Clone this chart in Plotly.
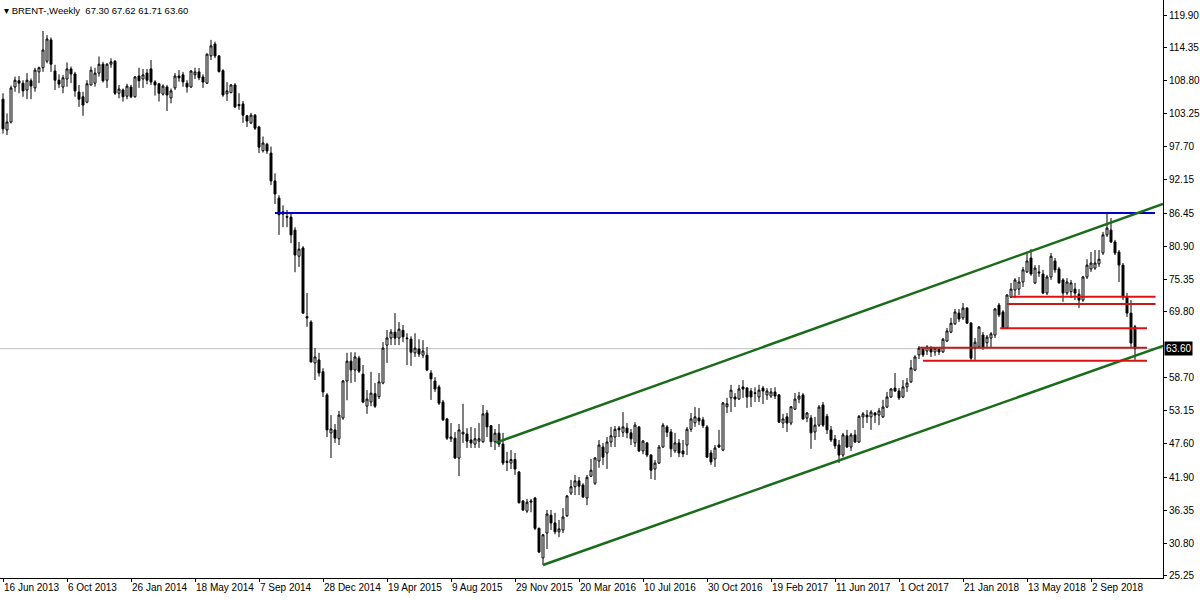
import pandas as pd
import plotly.graph_objects as go

# ---------------- data (weekly BRENT candles) ----------------
first_week = "2013-06-16"

opens = [105.7,100.5,101.85,107.75,108.8,108.4,107.25,108.8,107.6,110.3,
111.0,112.1,115.7,110.45,108.9,107.75,109.1,110.8,109.95,106.9,
106.1,105.2,108.1,108.4,110.1,111.6,108.9,111.6,112.1,106.7,
107.25,106.2,107.75,106.1,109.6,109.1,110.1,110.8,108.6,108.3,
106.55,107.75,105.9,107.6,109.6,109.8,108.4,107.75,109.8,110.3,
109.45,108.4,113.0,115.0,113.0,110.5,106.6,106.8,108.1,104.8,
104.9,102.9,101.7,103.0,101.0,97.0,98.1,96.6,91.9,89.0,
86.3,85.9,85.8,83.6,79.2,80.6,69.0,68.1,61.2,61.7,
59.7,55.8,49.4,49.9,48.4,51.9,58.15,61.5,60.0,62.0,
59.3,53.9,54.6,56.0,55.5,57.8,64.2,65.4,66.4,65.4,
66.7,65.4,65.2,62.9,63.55,62.5,62.5,59.5,58.15,57.15,
54.6,51.75,48.4,48.5,45.15,49.2,49.2,48.2,47.5,48.0,
47.9,52.75,50.6,47.9,49.35,47.5,44.6,44.3,44.9,42.8,
37.9,36.2,37.7,38.4,33.3,28.3,32.5,35.5,34.2,32.7,
33.0,35.4,39.25,40.3,41.3,40.6,38.4,42.1,40.9,44.65,
47.0,46.0,47.85,48.7,50.2,49.5,50.2,49.4,47.7,50.4,
46.35,47.7,45.65,43.3,44.3,47.0,50.4,49.55,46.35,47.7,
46.35,47.35,50.0,51.1,51.9,51.6,50.4,46.0,45.0,47.35,
46.5,53.8,55.3,55.45,55.1,57.15,56.95,56.45,56.15,55.45,
56.95,55.8,55.6,56.3,55.8,51.05,52.1,51.05,53.4,55.1,
55.8,51.9,51.9,49.55,50.7,54.1,52.2,49.9,48.35,47.35,
45.65,48.9,47.0,49.05,47.85,52.1,52.4,52.1,52.75,52.4,
52.1,53.75,55.45,56.95,56.45,55.45,57.15,58.0,60.0,62.55,
63.55,63.2,63.7,63.05,63.55,63.05,64.9,66.4,67.8,69.6,
68.8,70.45,67.9,63.7,63.9,65.9,64.6,65.4,65.9,70.95,
69.8,67.1,72.3,73.5,73.65,74.85,76.55,78.9,74.7,76.55,
76.2,73.0,75.7,78.4,77.05,75.2,73.0,73.2,73.65,72.8,
71.8,75.7,77.05,77.2,77.9,79.75,82.8,83.6,81.6,79.9,
77.7,72.3,69.6,67.30]

highs = [106.7,103.3,108.0,109.5,109.6,108.9,110.1,109.2,111.0,111.2,
117.2,116.5,116.1,111.5,109.9,109.8,111.9,111.2,110.3,108.1,
106.95,108.9,111.2,111.0,112.9,112.0,111.75,112.6,112.3,108.1,
107.5,108.3,108.1,109.6,111.0,110.8,110.8,112.3,108.9,108.4,
108.2,108.1,107.5,110.1,110.6,110.3,108.9,110.6,111.0,110.95,
109.9,113.4,115.7,115.4,113.15,110.75,108.6,108.25,108.4,106.7,
105.4,103.0,103.4,103.2,101.2,99.4,98.35,97.7,93.2,89.5,
87.8,87.0,86.5,84.1,81.6,80.9,73.0,68.4,63.7,62.9,
60.3,56.1,52.4,50.9,53.1,58.3,62.9,63.0,63.0,62.4,
60.85,56.6,59.7,57.8,59.5,64.7,66.75,66.9,69.6,68.1,
67.6,66.2,65.7,66.2,65.2,65.05,63.9,60.0,58.8,57.5,
54.95,51.9,51.05,49.55,50.9,54.3,50.2,50.4,50.2,51.05,
54.1,53.25,50.7,50.05,50.9,49.4,46.2,46.5,46.0,42.95,
38.05,38.25,38.25,38.6,33.4,32.3,36.4,36.4,35.9,34.7,
36.7,38.9,41.45,42.3,41.95,40.9,42.3,45.0,45.3,48.2,
47.7,48.7,50.4,50.55,50.55,52.9,51.05,50.05,51.2,50.55,
48.2,47.85,45.8,44.8,47.35,51.05,50.7,50.05,49.4,48.35,
48.2,50.4,52.75,53.75,53.6,52.1,50.7,46.5,47.35,49.9,
54.6,55.3,57.5,56.1,57.5,58.3,57.1,56.95,57.1,57.5,
57.3,56.95,56.95,57.1,55.95,52.6,52.75,53.9,56.1,56.3,
56.1,52.9,52.4,52.1,54.1,54.6,52.6,50.55,49.05,48.2,
49.4,49.9,49.4,49.9,52.4,52.9,53.25,53.25,52.9,53.6,
54.95,56.3,56.95,59.5,56.95,58.3,58.65,61.7,62.5,64.05,
63.9,64.2,64.05,63.9,63.9,65.4,67.1,68.8,70.3,70.3,
71.3,70.6,68.1,65.4,67.4,66.4,65.9,66.4,70.45,71.3,
70.1,72.8,74.7,75.5,75.7,77.4,79.75,80.4,77.7,77.7,
76.9,76.05,79.75,78.9,77.4,75.5,75.5,75.2,74.7,73.65,
75.9,78.7,79.9,80.25,80.25,83.3,86.5,85.65,81.95,80.25,
78.05,73.0,71.8,67.62]

lows = [99.9,99.65,101.6,106.95,106.7,106.1,105.7,105.7,106.95,108.4,
110.3,111.75,110.3,107.25,107.6,106.7,107.8,108.4,106.1,104.4,
102.9,105.0,108.0,107.8,109.5,108.5,107.6,111.0,106.4,105.85,
105.3,105.7,105.85,105.95,107.6,107.6,108.2,108.1,106.3,105.3,
106.3,103.7,105.0,107.25,108.65,107.8,106.8,107.6,109.1,108.9,
107.6,108.25,112.3,112.6,110.2,106.1,105.4,106.7,104.2,103.9,
101.7,101.0,101.5,100.5,96.6,96.7,96.45,91.2,88.0,82.8,
84.1,84.1,81.4,76.5,77.4,69.45,67.3,61.3,58.3,58.9,
55.45,48.7,45.15,47.7,47.35,51.6,54.9,57.8,58.0,59.5,
54.4,52.6,53.9,53.6,55.1,57.6,61.2,64.2,64.2,64.2,
64.7,60.85,60.7,62.2,62.2,62.0,59.8,54.95,56.3,54.1,
51.4,48.2,47.85,45.0,42.1,47.7,46.85,46.85,46.85,46.85,
47.7,48.7,47.0,46.5,47.0,43.98,42.95,43.3,42.3,37.5,
36.2,35.9,36.0,33.0,29.1,27.1,29.8,33.0,32.3,31.8,
32.5,35.2,38.9,38.9,38.9,38.4,37.2,41.95,40.6,43.5,
43.95,43.3,47.0,47.0,48.7,48.7,48.5,47.35,47.0,46.15,
45.8,45.3,41.6,41.45,44.15,46.9,48.7,45.3,46.0,45.3,
45.3,45.65,49.55,50.4,50.7,50.2,45.2,44.0,43.65,46.85,
46.3,52.75,52.9,53.75,54.95,55.3,53.6,53.75,54.6,54.6,
54.25,54.95,55.3,55.1,51.05,50.2,49.55,50.7,53.25,54.4,
51.6,51.2,46.7,48.2,50.4,50.4,49.2,47.85,46.7,44.3,
45.3,46.85,46.35,47.7,47.7,50.2,51.05,49.9,51.05,50.7,
51.9,53.6,55.3,56.3,54.95,55.3,56.3,57.8,59.8,61.85,
62.2,62.55,62.2,62.4,62.55,62.9,64.7,66.2,67.6,68.1,
68.45,67.8,61.7,61.7,63.7,63.4,63.7,63.9,65.4,68.95,
66.9,66.9,72.15,72.15,72.65,74.0,76.4,75.9,74.5,75.7,
72.8,72.65,75.2,76.4,74.6,71.5,72.65,72.15,71.8,70.45,
71.5,75.35,76.55,76.9,77.4,79.4,82.45,81.45,79.4,74.85,
71.8,68.95,63.9,61.71]

closes = [100.7,101.85,107.6,108.9,108.4,107.1,108.9,107.9,110.6,111.0,
114.0,115.85,111.6,108.9,108.25,109.3,110.8,109.95,107.1,105.7,
104.7,108.3,110.6,110.1,111.6,108.8,111.6,112.0,106.7,107.4,
106.1,107.9,106.1,109.45,108.8,109.8,108.9,108.6,108.1,106.7,
107.9,106.4,107.1,109.6,109.3,108.6,107.75,110.45,110.3,109.3,
108.6,113.3,114.7,113.0,110.35,106.4,107.1,108.1,104.4,104.6,
103.0,102.0,103.0,100.8,97.6,98.3,96.95,91.9,89.7,86.2,
86.7,85.8,82.8,79.4,80.4,69.6,68.8,61.35,62.2,59.5,
56.3,49.9,50.05,48.5,52.4,58.15,61.5,60.0,62.2,59.8,
54.6,55.1,56.1,53.9,58.0,63.7,65.4,66.4,65.4,66.9,
65.6,65.3,63.0,63.7,62.7,63.2,60.0,58.5,56.8,54.4,
51.6,48.5,48.7,45.15,49.9,49.5,48.0,47.7,48.4,48.4,
52.6,50.4,47.9,49.35,47.5,44.3,44.4,44.9,43.3,37.6,
36.4,37.7,37.9,33.3,29.3,32.2,35.7,34.2,32.7,33.2,
35.2,38.75,40.3,41.3,40.4,38.6,41.9,43.1,45.15,47.35,
45.3,47.85,48.9,50.0,49.9,50.4,49.4,48.4,50.7,46.35,
48.0,45.65,43.1,44.3,47.0,50.7,49.5,46.7,47.7,46.0,
45.85,50.0,51.75,52.1,51.4,50.6,45.3,44.5,46.85,47.0,
54.45,54.3,56.6,55.1,56.8,56.8,55.45,55.45,56.05,56.6,
56.45,56.45,56.3,55.6,51.2,51.75,51.05,53.8,55.1,55.6,
51.75,52.75,49.4,50.7,53.75,50.7,49.9,48.2,47.2,45.65,
49.05,47.0,49.05,47.85,52.2,52.6,52.1,52.9,52.4,53.1,
53.75,55.45,56.8,56.45,55.3,57.15,57.8,60.35,62.2,63.7,
62.55,63.9,63.05,63.7,63.05,65.2,66.6,67.9,69.8,68.6,
70.45,67.9,62.0,64.7,67.25,63.9,65.55,66.1,70.3,69.3,
67.1,72.65,73.65,75.2,74.85,76.9,78.4,76.2,77.2,76.4,
73.0,75.7,79.2,76.9,74.7,73.0,74.85,74.7,73.0,71.8,
75.7,77.7,78.05,78.05,78.7,82.8,83.95,81.6,79.75,77.7,
72.3,69.6,64.55,63.60]

bid = 63.60
header = "BRENT-,Weekly  67.30 67.62 61.71 63.60"

# right price scale labels
price_ticks = [119.90, 114.35, 108.80, 103.25, 97.70, 92.15, 86.45, 80.90, 75.35,
               69.80, 58.70, 53.15, 47.60, 41.90, 36.35, 30.80, 25.25]

# bottom time scale labels
date_ticks = ["2013-06-16", "2013-10-06", "2014-01-26", "2014-05-18", "2014-09-07",
              "2014-12-28", "2015-04-19", "2015-08-09", "2015-11-29", "2016-03-20",
              "2016-07-10", "2016-10-30", "2017-02-19", "2017-06-11", "2017-10-01",
              "2018-01-21", "2018-05-13", "2018-09-02"]
date_labels = ["16 Jun 2013", "6 Oct 2013", "26 Jan 2014", "18 May 2014", "7 Sep 2014",
               "28 Dec 2014", "19 Apr 2015", "9 Aug 2015", "29 Nov 2015", "20 Mar 2016",
               "10 Jul 2016", "30 Oct 2016", "19 Feb 2017", "11 Jun 2017", "1 Oct 2017",
               "21 Jan 2018", "13 May 2018", "2 Sep 2018"]

# drawn objects: (start date, start price, end date, end price)
resistance_blue = ("2014-10-05", 86.5, "2018-12-23", 86.5)
channel_upper = ("2015-10-27", 47.75, "2019-01-06", 88.04)
channel_lower = ("2016-01-17", 27.10, "2019-01-06", 64.05)
red_levels = [
    ("2018-04-16", 72.37, "2018-12-24", 72.37, "#e01010"),
    ("2018-04-08", 71.14, "2018-12-24", 71.14, "#c41a1a"),
    ("2018-03-27", 67.04, "2018-12-09", 67.04, "#e01010"),
    ("2017-11-07", 63.77, "2018-12-09", 63.77, "#b82020"),
    ("2017-11-12", 61.55, "2018-12-09", 61.55, "#e01010"),
]

# ---------------- figure ----------------
weeks = pd.date_range(first_week, periods=len(closes), freq="7D")

fig = go.Figure()
fig.add_trace(go.Candlestick(
    x=weeks, open=opens, high=highs, low=lows, close=closes,
    increasing=dict(line=dict(color="black", width=1), fillcolor="white"),
    decreasing=dict(line=dict(color="black", width=1), fillcolor="black"),
    whiskerwidth=0, showlegend=False, hoverinfo="skip",
))

def seg(obj, color, width):
    x0, y0, x1, y1 = obj[:4]
    fig.add_trace(go.Scatter(x=[x0, x1], y=[y0, y1], mode="lines",
                             line=dict(color=color, width=width),
                             showlegend=False, hoverinfo="skip"))

seg(resistance_blue, "#0000cd", 2)
seg(channel_upper, "#1a6b1a", 2.5)
seg(channel_lower, "#1a6b1a", 2.5)
for lvl in red_levels:
    seg(lvl, lvl[4], 2)

head_font = dict(family="Liberation Sans, Arial, sans-serif", size=9.5, color="black")
axis_font = dict(family="Liberation Sans, Arial, sans-serif", size=10, color="black")

fig.update_layout(
    width=1200, height=600,
    margin=dict(l=0, r=37, t=0, b=22),
    paper_bgcolor="white", plot_bgcolor="white",
    font=axis_font,
    showlegend=False,
    shapes=[dict(type="line", xref="paper", x0=0, x1=1, yref="y", y0=bid, y1=bid,
                 line=dict(color="#c0c0c0", width=1), layer="below")],
    annotations=[
        dict(xref="paper", yref="paper", x=0.002, y=0.995, xanchor="left", yanchor="top",
             text="\u25be " + header, showarrow=False, font=head_font),
        dict(xref="paper", yref="y", x=1.0, y=bid, xanchor="left", yanchor="middle",
             xshift=1, text=f"{bid:.2f}", showarrow=False, bgcolor="black",
             font=dict(family=axis_font["family"], size=10, color="white"), borderpad=1),
    ],
)
fig.update_xaxes(
    type="date", rangeslider_visible=False,
    range=["2013-06-10 18:00", "2019-01-06"],
    tickvals=date_ticks, ticktext=date_labels, tickangle=0,
    ticklabelposition="outside right", automargin=False,
    ticks="outside", ticklen=3, tickcolor="black", tickfont=axis_font,
    showgrid=False, zeroline=False,
    showline=True, linecolor="black", linewidth=1, mirror=True,
)
fig.update_yaxes(
    side="right", range=[24.91, 122.43], automargin=False,
    tickvals=price_ticks, ticktext=[f"{v:.2f}" for v in price_ticks],
    ticks="outside", ticklen=3, tickcolor="black", tickfont=axis_font,
    showgrid=False, zeroline=False,
    showline=True, linecolor="black", linewidth=1, mirror=True,
)

fig.write_html("out.html",
               config={"displayModeBar": False},
               post_script="document.body.style.margin='0';document.body.style.overflow='hidden';")
